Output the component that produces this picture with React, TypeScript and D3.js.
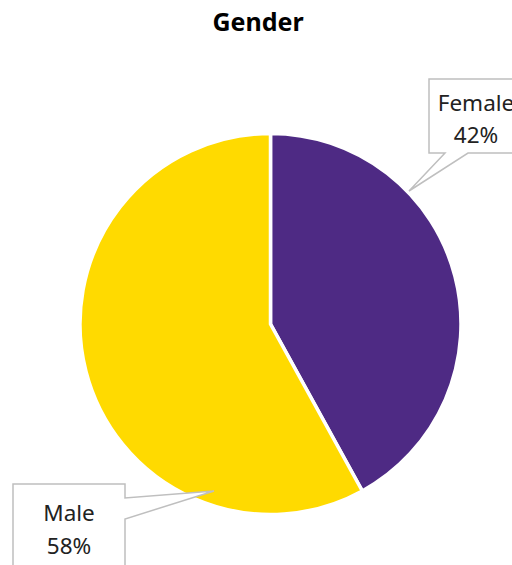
import React from "react";
import * as d3 from "d3";

const categories = ["Female", "Male"];
const values = [42, 58];
const colors = ["#4E2A84", "#FFDA00"];

const W = 512, H = 565;
const cx = 270.5, cy = 324, R = 190.5;

export default function App() {
  const pie = d3.pie<number>().sort(null).startAngle(0).endAngle(2 * Math.PI);
  const arcs = pie(values);
  const arcGen = d3.arc<d3.PieArcDatum<number>>().innerRadius(0).outerRadius(R);
  const font = "'Noto Sans', 'Open Sans', sans-serif";

  const femalePath = "M429,79 H545 V153 H468 L409,191 L445,153 H429 Z";
  const malePath = "M13,484 H125 V498 L214,491 L125,519 V580 H13 Z";

  return (
    <svg width={W} height={H} style={{ position: "absolute", left: 0, top: 0, background: "#fff" }}>
      <text x={258} y={31} textAnchor="middle" fontFamily={font} fontWeight="bold" fontSize={25} fill="#000">
        Gender
      </text>
      <g transform={`translate(${cx},${cy})`}>
        {arcs.map((a, i) => (
          <path key={categories[i]} d={arcGen(a) || ""} fill={colors[i]} stroke="#fff" strokeWidth={3.5} strokeLinejoin="miter" />
        ))}
      </g>
      <path d={femalePath} fill="#fff" stroke="#bfbfbf" strokeWidth={1.5} />
      <text x={476} y={111} textAnchor="middle" fontFamily={font} fontSize={22.5} fill="#222">{categories[0]}</text>
      <text x={476} y={143} textAnchor="middle" fontFamily={font} fontSize={22.5} fill="#222">{values[0]}%</text>
      <path d={malePath} fill="#fff" stroke="#bfbfbf" strokeWidth={1.5} />
      <text x={69} y={521} textAnchor="middle" fontFamily={font} fontSize={22.5} fill="#222">{categories[1]}</text>
      <text x={69} y={554} textAnchor="middle" fontFamily={font} fontSize={22.5} fill="#222">{values[1]}%</text>
    </svg>
  );
}
